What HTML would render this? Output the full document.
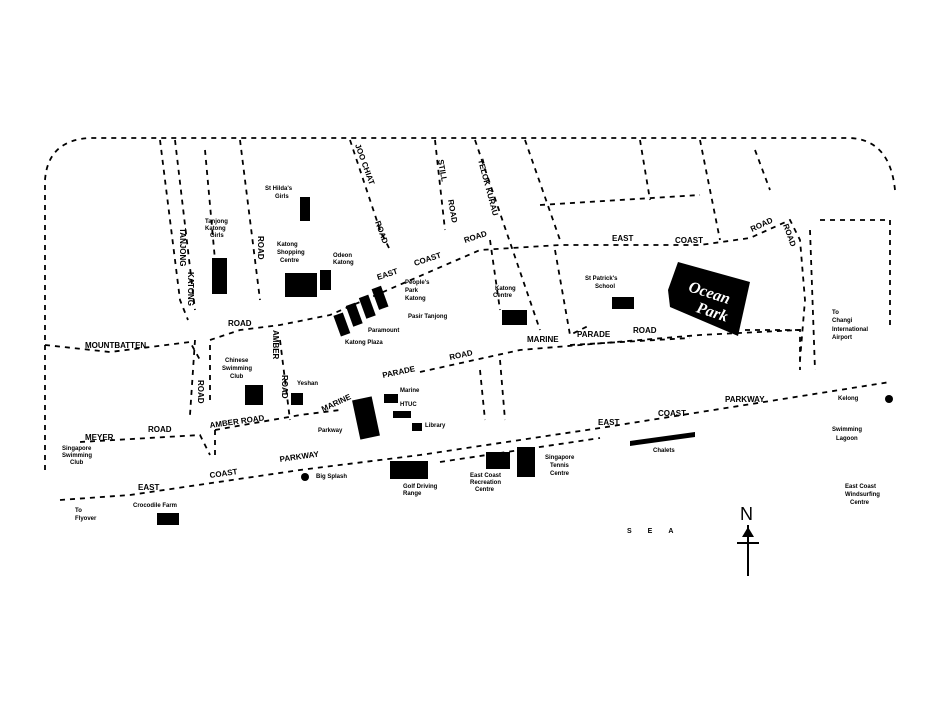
<!DOCTYPE html>
<html><head><meta charset="utf-8"><style>
html,body{margin:0;padding:0;background:#fff;}
svg{display:block}
text{font-family:"Liberation Sans",sans-serif;font-weight:bold;fill:#000}
.s{font-size:6px}
.r{font-size:8px}
</style></head><body>
<svg width="943" height="717" viewBox="0 0 943 717" xmlns="http://www.w3.org/2000/svg">
<g fill="none" stroke="#000" stroke-width="1.8" stroke-dasharray="5 5">
<path d="M45 470 L45 180 Q48 140 90 138 L850 138 Q890 140 895 190"/>
<path d="M45 345 L110 352 L190 342 L200 360"/>
<path d="M210 340 L240 330 L280 325 L330 315 L480 250 L560 245 L700 245 L750 238 L790 220 L800 240 L805 300 L800 360"/>
<path d="M195 340 L190 415"/>
<path d="M210 345 L210 405"/>
<path d="M280 340 L290 420"/>
<path d="M420 372 L520 350 L700 335 L800 330 L800 370"/>
<path d="M570 345 L690 338"/>
<path d="M80 442 L200 435 L210 455"/>
<path d="M215 430 L300 415 L340 410"/>
<path d="M215 430 L215 455"/>
<path d="M60 500 L130 495 L300 470 L420 455 L600 428 L890 382"/>
<path d="M440 462 L600 438"/>
<path d="M160 140 L180 300 L188 320"/>
<path d="M175 140 L195 310"/>
<path d="M240 140 L260 300"/>
<path d="M205 150 L215 260"/>
<path d="M350 140 L380 230 L390 250"/>
<path d="M435 140 L445 230"/>
<path d="M475 140 L540 330"/>
<path d="M490 240 L500 310"/>
<path d="M525 140 L560 240"/>
<path d="M555 250 L570 335 L590 325"/>
<path d="M540 205 L700 195"/>
<path d="M640 140 L650 200"/>
<path d="M700 140 L720 240"/>
<path d="M755 150 L770 190"/>
<path d="M820 220 L890 220 L890 330"/>
<path d="M810 230 L815 370"/>
<path d="M480 370 L485 420"/>
<path d="M500 360 L505 420"/>
<path d="M745 330 L800 330"/>
</g>
<g fill="#000">
<rect x="300" y="197" width="10" height="24"/>
<rect x="212" y="258" width="15" height="36"/>
<rect x="285" y="273" width="32" height="24"/>
<rect x="320" y="270" width="11" height="20"/>
<g transform="rotate(-20 365 315)">
<rect x="335" y="305" width="10" height="22"/><rect x="350" y="300" width="10" height="22"/>
<rect x="365" y="297" width="10" height="22"/><rect x="380" y="293" width="10" height="22"/>
</g>
<rect x="245" y="385" width="18" height="20"/>
<rect x="291" y="393" width="12" height="12"/>
<rect x="356" y="398" width="20" height="40" transform="rotate(-12 366 418)"/>
<rect x="384" y="394" width="14" height="9"/>
<rect x="393" y="411" width="18" height="7"/>
<rect x="412" y="423" width="10" height="8"/>
<rect x="502" y="310" width="25" height="15"/>
<rect x="612" y="297" width="22" height="12"/>
<rect x="390" y="461" width="38" height="18"/>
<rect x="486" y="452" width="24" height="17"/>
<rect x="517" y="447" width="18" height="30"/>
<polygon points="630,441 695,432 695,437 630,446"/>
<circle cx="305" cy="477" r="4"/>
<rect x="157" y="513" width="22" height="12"/>
<circle cx="889" cy="399" r="4"/>
<polygon points="678,262 750,282 738,336 670,307 668,290"/>
</g>
<text x="687" y="295" transform="rotate(18 700 295)" style="fill:#fff;font-style:italic;font-family:'Liberation Serif',serif;font-size:16px">Ocean</text>
<text x="695" y="315" transform="rotate(18 705 315)" style="fill:#fff;font-style:italic;font-family:'Liberation Serif',serif;font-size:16px">Park</text>
<g class="r">
<text x="85" y="348">MOUNTBATTEN</text>
<text x="228" y="326">ROAD</text>
<text x="378" y="280" transform="rotate(-18 378 280)">EAST</text>
<text x="415" y="266" transform="rotate(-18 415 266)">COAST</text>
<text x="465" y="243" transform="rotate(-18 465 243)">ROAD</text>
<text x="612" y="241">EAST</text>
<text x="675" y="243">COAST</text>
<text x="752" y="232" transform="rotate(-25 752 232)">ROAD</text>
<text x="323" y="412" transform="rotate(-25 323 412)">MARINE</text>
<text x="383" y="378" transform="rotate(-12 383 378)">PARADE</text>
<text x="450" y="360" transform="rotate(-12 450 360)">ROAD</text>
<text x="527" y="342">MARINE</text>
<text x="577" y="337">PARADE</text>
<text x="633" y="333">ROAD</text>
<text x="85" y="440">MEYER</text>
<text x="148" y="432">ROAD</text>
<text x="210" y="428" transform="rotate(-8 210 428)">AMBER ROAD</text>
<text x="138" y="490">EAST</text>
<text x="210" y="478" transform="rotate(-8 210 478)">COAST</text>
<text x="280" y="462" transform="rotate(-8 280 462)">PARKWAY</text>
<text x="598" y="425">EAST</text>
<text x="658" y="416">COAST</text>
<text x="725" y="402">PARKWAY</text>
<text x="180" y="228" transform="rotate(90 180 228)">TANJONG</text>
<text x="188" y="272" transform="rotate(90 188 272)">KATONG</text>
<text x="258" y="236" transform="rotate(90 258 236)">ROAD</text>
<text x="355" y="145" transform="rotate(70 355 145)">JOO CHIAT</text>
<text x="375" y="222" transform="rotate(70 375 222)">ROAD</text>
<text x="438" y="160" transform="rotate(80 438 160)">STILL</text>
<text x="448" y="200" transform="rotate(80 448 200)">ROAD</text>
<text x="478" y="160" transform="rotate(75 478 160)">TELOK KURAU</text>
<text x="198" y="380" transform="rotate(90 198 380)">ROAD</text>
<text x="273" y="330" transform="rotate(90 273 330)">AMBER</text>
<text x="282" y="375" transform="rotate(90 282 375)">ROAD</text>
<text x="783" y="225" transform="rotate(70 783 225)">ROAD</text>
</g>
<g class="s">
<text x="265" y="190">St Hilda's</text><text x="275" y="198">Girls</text>
<text x="205" y="223">Tanjong</text><text x="205" y="230">Katong</text><text x="210" y="237">Girls</text>
<text x="277" y="246">Katong</text><text x="277" y="254">Shopping</text><text x="280" y="262">Centre</text>
<text x="333" y="257">Odeon</text><text x="333" y="264">Katong</text>
<text x="405" y="284">People's</text><text x="405" y="292">Park</text><text x="405" y="300">Katong</text><text x="408" y="318">Pasir Tanjong</text>
<text x="368" y="332">Paramount</text><text x="345" y="344">Katong Plaza</text>
<text x="225" y="362">Chinese</text><text x="222" y="370">Swimming</text><text x="230" y="378">Club</text>
<text x="297" y="385">Yeshan</text>
<text x="400" y="392">Marine</text><text x="400" y="406">HTUC</text><text x="425" y="427">Library</text>
<text x="318" y="432">Parkway</text>
<text x="495" y="290">Katong</text><text x="493" y="297">Centre</text>
<text x="585" y="280">St Patrick's</text><text x="595" y="288">School</text>
<text x="62" y="450">Singapore</text><text x="62" y="457">Swimming</text><text x="70" y="464">Club</text>
<text x="316" y="478">Big Splash</text>
<text x="403" y="488">Golf Driving</text><text x="403" y="495">Range</text>
<text x="470" y="477">East Coast</text><text x="470" y="484">Recreation</text><text x="475" y="491">Centre</text>
<text x="545" y="459">Singapore</text><text x="550" y="467">Tennis</text><text x="550" y="475">Centre</text>
<text x="653" y="452">Chalets</text>
<text x="133" y="507">Crocodile Farm</text>
<text x="75" y="512">To</text><text x="75" y="520">Flyover</text>
<text x="832" y="314">To</text><text x="832" y="322">Changi</text><text x="832" y="331">International</text><text x="832" y="339">Airport</text>
<text x="838" y="400">Kelong</text>
<text x="832" y="431">Swimming</text><text x="836" y="440">Lagoon</text>
<text x="845" y="488">East Coast</text><text x="845" y="496">Windsurfing</text><text x="850" y="504">Centre</text>
</g>
<text x="627" y="533" style="font-size:7px;letter-spacing:16px">SEA</text>
<text x="740" y="520" style="font-size:18px;font-weight:normal">N</text>
<line x1="748" y1="525" x2="748" y2="576" stroke="#000" stroke-width="2"/>
<line x1="737" y1="543" x2="759" y2="543" stroke="#000" stroke-width="2"/>
<polygon points="748,527 742,537 754,537" fill="#000"/>
</svg>
</body></html>
